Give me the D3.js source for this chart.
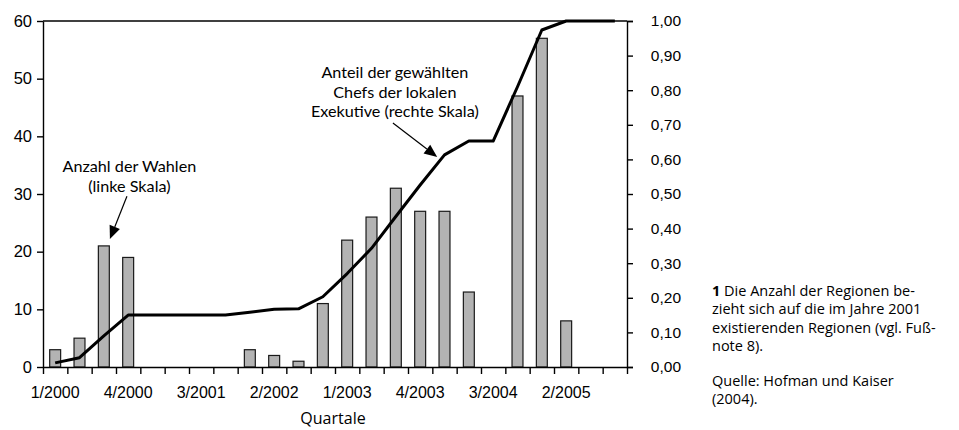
<!DOCTYPE html>
<html>
<head>
<meta charset="utf-8">
<script src="https://cdn.jsdelivr.net/npm/d3@7"></script>
<style>
  body { margin: 0; background: #fff; }
  svg { display: block; font-family: "Open Sans", Lato, sans-serif; }
</style>
</head>
<body>
<svg id="chart" width="959" height="430"></svg>
<script>
// ---- data ----
const quarters = [
  "1/2000","2/2000","3/2000","4/2000",
  "1/2001","2/2001","3/2001","4/2001",
  "1/2002","2/2002","3/2002","4/2002",
  "1/2003","2/2003","3/2003","4/2003",
  "1/2004","2/2004","3/2004","4/2004",
  "1/2005","2/2005","3/2005","4/2005"
];
const elections = [3,5,21,19,0,0,0,0,3,2,1,11,22,26,31,27,27,13,0,47,57,8,0,0];
const shareElected = [0.012,0.027,0.09,0.15,0.15,0.15,0.15,0.15,0.158,0.167,0.168,0.203,
                      0.27,0.343,0.435,0.526,0.613,0.653,0.653,0.81,0.974,1.0,1.0,1.0];
const xTickLabels = ["1/2000","4/2000","3/2001","2/2002","1/2003","4/2003","3/2004","2/2005"];
const leftTicks = [0,10,20,30,40,50,60];
const rightTicks = [0,0.1,0.2,0.3,0.4,0.5,0.6,0.7,0.8,0.9,1.0];
const xTitle = "Quartale";
const noteLines = ["Die Anzahl der Regionen be-","zieht sich auf die im Jahre 2001","existierenden Regionen (vgl. Fuß-","note 8)."];
const sourceLines = ["Quelle: Hofman und Kaiser","(2004)."];
const annLeft = ["Anzahl der Wahlen","(linke Skala)"];
const annRight = ["Anteil der gewählten","Chefs der lokalen","Exekutive (rechte Skala)"];

// ---- layout ----
const svg = d3.select("#chart");
const L = 43, R = 627, T = 21, B = 367;

const x = d3.scaleBand().domain(quarters).range([L, R]).paddingInner(0.55).paddingOuter(0.275);
const xi = d3.scaleLinear().domain([0, quarters.length]).range([L, R]);
const yL = d3.scaleLinear().domain([0, 60]).range([B, T]);
const yR = d3.scaleLinear().domain([0, 1]).range([B, T]);
const fmt = d => d.toFixed(2).replace(".", ",");

// top frame line
svg.append("line").attr("x1", L).attr("x2", R).attr("y1", T).attr("y2", T)
  .attr("stroke", "#000").attr("stroke-width", 1.3);

// bars
svg.append("g").selectAll("rect").data(elections).join("rect")
  .attr("x", (d, i) => x(quarters[i]))
  .attr("width", x.bandwidth())
  .attr("y", d => yL(d))
  .attr("height", d => B - yL(d))
  .attr("fill", "#b3b3b3")
  .attr("stroke", "#1a1a1a")
  .attr("stroke-width", 1.2)
  .attr("display", d => d > 0 ? null : "none");

// line
const line = d3.line()
  .x((d, i) => x(quarters[i]) + x.bandwidth() / 2)
  .y(d => yR(d));
svg.append("path").datum(shareElected)
  .attr("d", line).attr("fill", "none")
  .attr("stroke", "#000").attr("stroke-width", 3).attr("stroke-linejoin", "round");

// left axis
const gL = svg.append("g").attr("transform", `translate(${L},0)`)
  .call(d3.axisLeft(yL).tickValues(leftTicks).tickSize(6).tickSizeOuter(0).tickPadding(5));
gL.selectAll("text").attr("font-size", 16.5).attr("fill", "#000");

// right axis
const gR = svg.append("g").attr("transform", `translate(${R},0)`)
  .call(d3.axisRight(yR).tickValues(rightTicks).tickFormat(fmt).tickSize(6).tickSizeOuter(6));
gR.selectAll("text").attr("font-size", 15.5).attr("fill", "#000")
  .attr("text-anchor", "end").attr("x", 54);

// x axis: boundary ticks
svg.append("g").attr("transform", `translate(0,${B})`)
  .call(d3.axisBottom(xi).tickValues(d3.range(quarters.length + 1))
    .tickFormat("").tickSize(7).tickSizeOuter(0));
// x labels
const gXL = svg.append("g").attr("transform", `translate(0,${B})`)
  .call(d3.axisBottom(x).tickValues(xTickLabels).tickSize(0).tickPadding(20));
gXL.select(".domain").remove();
gXL.selectAll("text").attr("font-size", 16).attr("fill", "#000");

svg.selectAll(".domain, .tick line").attr("stroke", "#000").attr("stroke-width", 1.4);

// x title
svg.append("text").attr("x", (L + R) / 2 - 2).attr("y", 424).attr("text-anchor", "middle")
  .attr("font-size", 16).text(xTitle);

// annotations
function arrow(x1, y1, x2, y2) {
  const g = svg.append("g");
  const a = Math.atan2(y2 - y1, x2 - x1);
  const len = 13, w = 5.5;
  const bx = x2 - len * Math.cos(a), by = y2 - len * Math.sin(a);
  g.append("line").attr("x1", x1).attr("y1", y1).attr("x2", bx).attr("y2", by)
    .attr("stroke", "#000").attr("stroke-width", 1.2);
  g.append("path").attr("d", `M${x2},${y2}L${bx - w * Math.sin(a)},${by + w * Math.cos(a)}L${bx + w * Math.sin(a)},${by - w * Math.cos(a)}Z`)
    .attr("fill", "#000");
}
annLeft.forEach((s, i) => svg.append("text").attr("text-anchor", "middle")
  .attr("font-family", "Lato, sans-serif").attr("font-size", 16.2)
  .attr("x", xi(3.55)).attr("y", yL(33.8) + i * 19.6).text(s));
arrow(xi(3.45), yL(29.6), xi(2.75), yL(22.2));

annRight.forEach((s, i) => svg.append("text").attr("text-anchor", "middle")
  .attr("font-family", "Lato, sans-serif").attr("font-size", 16.2)
  .attr("x", xi(14.46)).attr("y", yR(0.835) + i * 19.6).text(s));
arrow(xi(14.38), yR(0.705), xi(16.2), yR(0.607));

// side notes
const n = svg.append("text").attr("font-size", 14.5);
noteLines.forEach((s, i) => {
  const ts = n.append("tspan").attr("x", 712).attr("y", 296 + i * 18.3);
  if (i === 0) { ts.append("tspan").attr("font-weight", "bold").text("1 "); ts.append("tspan").text(s); }
  else ts.text(s);
});
const q = svg.append("text").attr("font-size", 14.5);
sourceLines.forEach((s, i) => q.append("tspan").attr("x", 712).attr("y", 386 + i * 18.3).text(s));
</script>
</body>
</html>
